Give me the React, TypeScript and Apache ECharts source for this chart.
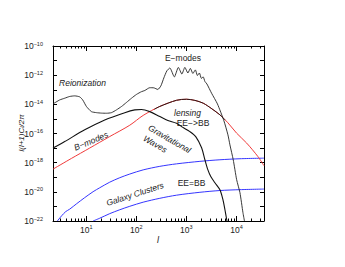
import React, { useEffect, useRef } from "react";
import * as echarts from "echarts";

// ---- axis ranges (multipole l, power l(l+1)C_l/2π) ----
const L_MIN = 2.17;
const L_MAX = 35500;
const C_MIN_EXP = -22;
const C_MAX_EXP = -10;
const xMajorExps = [1, 2, 3, 4];
const yTickExps = [-22, -21, -20, -19, -18, -17, -16, -15, -14, -13, -12, -11, -10];
const yLabelExps = [-22, -20, -18, -16, -14, -12, -10];

// ---- E-modes ----
const eModesL = [2.17, 2.95, 3.72, 4.68, 5.89, 7.41, 8.51, 10.1, 12.7, 16.0, 20.1, 25.4, 31.9, 40.2, 50.6, 63.7, 80.2, 101, 127, 148, 186, 224, 269, 309, 355, 407, 468, 575, 692, 813, 933, 1072, 1202, 1349, 1514, 1660, 1820, 1995, 2168, 2344, 2570, 3190, 4170, 5620, 6760, 7410, 8630, 10090, 11750, 13490, 14450];
const eModesC = [1.07e-14, 2.0e-14, 2.63e-14, 3.47e-14, 3.8e-14, 3.24e-14, 2.0e-14, 7.1e-15, 3.16e-15, 2.69e-15, 2.5e-15, 2.45e-15, 2.69e-15, 4.17e-15, 7.1e-15, 1.35e-14, 2.63e-14, 4.8e-14, 7.4e-14, 8.9e-14, 1.38e-13, 1.35e-13, 1.05e-13, 1.82e-13, 6.5e-13, 1.95e-12, 3.1e-12, 7.6e-13, 3.4e-12, 1.2e-12, 3.4e-12, 1.41e-12, 2.9e-12, 1.32e-12, 2.3e-12, 9.5e-13, 1.41e-12, 6.0e-13, 7.6e-13, 3.7e-13, 2.5e-13, 5.75e-14, 1.07e-14, 7.4e-16, 8.1e-17, 1.66e-17, 1.58e-18, 6.8e-20, 8.7e-21, 3.7e-22, 1.0e-22];

// ---- B-modes from gravitational waves ----
const gwL = [2.17, 3.72, 9.33, 23.4, 58.9, 93.3, 127, 186, 295, 427, 637, 851, 1175, 1549, 2014, 2344, 2692, 3090, 3715, 4677, 5370, 5890, 6457];
const gwC = [1.0e-17, 2.82e-17, 1.78e-16, 8.5e-16, 2.69e-15, 4.17e-15, 4.47e-15, 3.16e-15, 1.45e-15, 7.8e-16, 5.0e-16, 2.63e-16, 1.35e-16, 5.9e-17, 1.05e-17, 1.58e-18, 3.2e-19, 1.07e-19, 4.2e-20, 1.38e-20, 2.9e-21, 5.9e-22, 1.0e-22];

// ---- lensing EE->BB (red) ----
const lensRedL = [2.17, 5.06, 11.7, 29.5, 74.1, 137, 295, 637, 1009, 1479, 2168, 3236, 4677, 6761, 10090, 16000, 26900, 35480];
const lensRedC = [3.6e-19, 1.95e-18, 1.0e-17, 6.2e-17, 3.7e-16, 1.74e-15, 7.2e-15, 1.9e-14, 2.24e-14, 1.86e-14, 1.2e-14, 4.9e-15, 1.9e-15, 5.4e-16, 1.05e-16, 2.2e-17, 2.6e-18, 6.2e-19];

// ---- lensing (black, full calculation) ----
const lensBlackL = [230, 295, 637, 1009, 1479, 2168, 3236, 4677, 5890];
const lensBlackC = [4.6e-15, 7.2e-15, 1.9e-14, 2.24e-14, 1.86e-14, 1.2e-14, 4.9e-15, 1.9e-15, 8.7e-16];

// ---- galaxy clusters (blue) ----
const clusterUpperL = [2.65, 3.24, 3.89, 4.68, 6.46, 9.33, 13.7, 18.6, 29.5, 46.8, 74.1, 137, 295, 637, 1862, 4677, 11750, 35480];
const clusterUpperC = [1e-22, 2.3e-22, 4.4e-22, 6.5e-22, 1.55e-21, 4.0e-21, 1.02e-20, 1.9e-20, 4.6e-20, 9.3e-20, 1.66e-19, 3.2e-19, 5.6e-19, 8.3e-19, 1.23e-18, 1.58e-18, 1.86e-18, 2.04e-18];
const clusterLowerL = [13.7, 18.6, 29.5, 46.8, 74.1, 137, 295, 637, 1862, 4677, 11750, 35480];
const clusterLowerC = [1e-22, 1.55e-22, 3.2e-22, 5.9e-22, 1.02e-21, 1.95e-21, 3.6e-21, 5.9e-21, 9.3e-21, 1.23e-20, 1.41e-20, 1.55e-20];

const FONT = "'Liberation Sans', Arial, Helvetica, sans-serif";
const TXT = "#222";

const xMin = Math.log10(L_MIN);
const xMax = Math.log10(L_MAX);

const xMinorVals: number[] = [];
for (let n = 0; n <= 4; n++) {
  for (let k = 2; k <= 9; k++) {
    const v = Math.log10(k * Math.pow(10, n));
    if (v > xMin && v < xMax) xMinorVals.push(v);
  }
}

const expText = (v: number) => {
  const r = Math.round(v);
  return r < 0 ? "\u2212" + Math.abs(r) : String(r);
};

const labelRich = {
  b: { fontSize: 8.5, fontFamily: FONT, color: TXT, lineHeight: 11 },
  e: { fontSize: 5.5, fontFamily: FONT, color: TXT, verticalAlign: "top", lineHeight: 6 },
};

const toPts = (ls: number[], cs: number[]) => ls.map((l, i) => [Math.log10(l), Math.log10(cs[i])]);

const line = (name: string, ls: number[], cs: number[], color: string, width: number, z: number, smooth = 0.3) => ({
  type: "line",
  name,
  data: toPts(ls, cs),
  showSymbol: false,
  symbol: "none",
  smooth,
  silent: true,
  z,
  lineStyle: { color, width },
});

const baseX = (position: string) => ({
  type: "value",
  position,
  min: xMin,
  max: xMax,
  splitLine: { show: false },
});
const baseY = (position: string) => ({
  type: "value",
  position,
  min: C_MIN_EXP,
  max: C_MAX_EXP,
  splitLine: { show: false },
});

const axisLine = { show: true, onZero: false, lineStyle: { color: "#000", width: 1 } };

const option = {
  animation: false,
  backgroundColor: "#fff",
  grid: { left: 53, top: 46, width: 211, height: 175, containLabel: false },
  xAxis: [
    {
      ...baseX("bottom"),
      axisLine,
      axisTick: { show: true, inside: true, length: 5, customValues: xMajorExps, lineStyle: { color: "#000" } },
      axisLabel: {
        show: true,
        margin: 3,
        customValues: xMajorExps,
        formatter: (v: number) => `{b|10}{e|${expText(v)}}`,
        rich: labelRich,
      },
    },
    {
      ...baseX("bottom"),
      axisLine: { show: false },
      axisTick: { show: true, inside: true, length: 2.5, customValues: xMinorVals, lineStyle: { color: "#000" } },
      axisLabel: { show: false },
    },
    {
      ...baseX("top"),
      axisLine,
      axisTick: { show: true, inside: true, length: 5, customValues: xMajorExps, lineStyle: { color: "#000" } },
      axisLabel: { show: false },
    },
    {
      ...baseX("top"),
      axisLine: { show: false },
      axisTick: { show: true, inside: true, length: 2.5, customValues: xMinorVals, lineStyle: { color: "#000" } },
      axisLabel: { show: false },
    },
  ],
  yAxis: [
    {
      ...baseY("left"),
      axisLine,
      axisTick: { show: true, inside: true, length: 4, customValues: yTickExps, lineStyle: { color: "#000" } },
      axisLabel: {
        show: true,
        margin: 10,
        customValues: yLabelExps,
        formatter: (v: number) => `{b|10}{e|${expText(v)}}`,
        rich: labelRich,
      },
    },
    {
      ...baseY("right"),
      axisLine,
      axisTick: { show: true, inside: true, length: 4, customValues: yTickExps, lineStyle: { color: "#000" } },
      axisLabel: { show: false },
    },
  ],
  series: [
    line("Galaxy Clusters", clusterUpperL, clusterUpperC, "#3535ff", 1, 2),
    line("EE=BB", clusterLowerL, clusterLowerC, "#3535ff", 1, 2),
    line("lensing EE->BB", lensRedL, lensRedC, "#f03a3a", 1, 3),
    line("lensing", lensBlackL, lensBlackC, "#2a1616", 1, 4),
    line("B-modes", gwL, gwC, "#111", 1.1, 5),
    line("E-modes", eModesL, eModesC, "#222", 0.9, 6, 0.2),
  ],
  graphic: [
    {
      type: "text",
      x: 21,
      y: 133,
      rotation: Math.PI / 2,
      z: 10,
      style: {
        text: "{i|l(l+1)C}{s|l}{i|/2\u03c0}",
        align: "center",
        verticalAlign: "middle",
        rich: {
          i: { fontSize: 8, fontStyle: "italic", fontFamily: FONT, fill: TXT },
          s: { fontSize: 6, fontStyle: "italic", fontFamily: FONT, fill: TXT, verticalAlign: "bottom", lineHeight: 6 },
        },
      },
    },
    {
      type: "text",
      x: 158,
      y: 240,
      style: { text: "l", fontSize: 9, fontStyle: "italic", fontFamily: FONT, fill: TXT, align: "center", verticalAlign: "middle" },
    },
    {
      type: "text",
      x: 82.5,
      y: 83,
      style: { text: "Reionization", fontSize: 8.5, fontStyle: "italic", fontFamily: FONT, fill: TXT, align: "center", verticalAlign: "middle" },
    },
    {
      type: "text",
      x: 183,
      y: 57.5,
      style: { text: "E\u2212modes", fontSize: 8.5, fontFamily: FONT, fill: TXT, align: "center", verticalAlign: "middle" },
    },
    {
      type: "text",
      x: 187.5,
      y: 112.7,
      style: { text: "lensing", fontSize: 8.5, fontStyle: "italic", fontFamily: FONT, fill: TXT, align: "center", verticalAlign: "middle" },
    },
    {
      type: "text",
      x: 193,
      y: 122.7,
      style: { text: "EE\u2212>BB", fontSize: 8.5, fontFamily: FONT, fill: TXT, align: "center", verticalAlign: "middle" },
    },
    {
      type: "text",
      x: 91,
      y: 141,
      rotation: (23 * Math.PI) / 180,
      style: { text: "B\u2212modes", fontSize: 8.5, fontStyle: "italic", fontFamily: FONT, fill: TXT, align: "center", verticalAlign: "middle" },
    },
    {
      type: "group",
      x: 149,
      y: 127,
      rotation: (-30 * Math.PI) / 180,
      children: [
        {
          type: "text",
          x: 0,
          y: 0,
          style: { text: "Gravitational", fontSize: 8.5, fontStyle: "italic", fontFamily: FONT, fill: TXT, align: "left", verticalAlign: "middle" },
        },
        {
          type: "text",
          x: 1,
          y: 11.6,
          style: { text: "Waves", fontSize: 8.5, fontStyle: "italic", fontFamily: FONT, fill: TXT, align: "left", verticalAlign: "middle" },
        },
      ],
    },
    {
      type: "text",
      x: 135,
      y: 194,
      rotation: (18 * Math.PI) / 180,
      style: { text: "Galaxy Clusters", fontSize: 8.5, fontStyle: "italic", fontFamily: FONT, fill: TXT, align: "center", verticalAlign: "middle" },
    },
    {
      type: "text",
      x: 191.5,
      y: 183,
      style: { text: "EE=BB", fontSize: 8.5, fontFamily: FONT, fill: TXT, align: "center", verticalAlign: "middle" },
    },
  ],
};

export default function App() {
  const ref = useRef<HTMLDivElement>(null);
  useEffect(() => {
    if (!ref.current) return;
    const chart = echarts.init(ref.current, null, { renderer: "svg" });
    chart.setOption(option as any);
    return () => chart.dispose();
  }, []);
  return <div ref={ref} style={{ position: "fixed", left: 0, top: 0, width: 345, height: 267, background: "#fff" }} />;
}
